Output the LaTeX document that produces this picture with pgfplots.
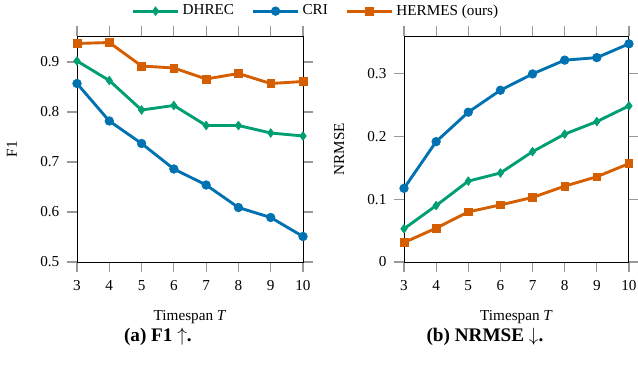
\documentclass[border=0pt]{standalone}
\usepackage{pgfplots}
\pgfplotsset{compat=1.18}
\usepackage{fontspec}
\setmainfont{Liberation Serif}
\definecolor{cgreen}{HTML}{009E73}
\definecolor{cblue}{HTML}{0072B2}
\definecolor{corange}{HTML}{D55E00}
\begin{document}
\begin{tikzpicture}[x=1pt,y=1pt]
\path[use as bounding box] (0,0) rectangle (398.75,236.875);
\pgfplotsset{myax/.style={
 scale only axis, height=141.25pt,
 xmin=3, xmax=10, xtick={3,...,10},
 tick align=outside, major tick length=6pt,
 tick style={gray!80, line width=0.7pt},
 axis line style={line width=0.6pt},
 clip=false,
 font=\fontsize{9.5}{11}\selectfont,
 /pgf/number format/assume math mode=true,
 xticklabel style={yshift=-2pt},
 yticklabel style={xshift=-1.5pt},
 xlabel={Timespan \textit{T}},
 xlabel style={at={(axis description cs:0.5,-0.243)}, anchor=center},
 ylabel style={at={(axis description cs:-0.288,0.5)}, anchor=center},
 every axis plot/.append style={line width=1.8pt},
 mark options={solid, line width=0.4pt},
 legend image code/.code={\draw[mark repeat=2,mark phase=2] plot coordinates {(0pt,0pt) (14pt,0pt) (28pt,0pt)};},
}}
\begin{axis}[myax, at={(48.125pt,73.125pt)}, anchor=south west, width=141.25pt,
  ymin=0.5, ymax=0.952, ytick={0.5,0.6,0.7,0.8,0.9},
  yticklabel style={/pgf/number format/.cd, fixed, fixed zerofill, precision=1},
  ylabel={F1},
  legend columns=3,
  legend style={draw=none, fill=none, at={(axis description cs:1.06,1.11)}, anchor=center,
    font=\fontsize{9.5}{11}\selectfont},
]
\addplot[cgreen, mark=diamond*, mark size=2.7pt] coordinates {(3,0.902) (4,0.863) (5,0.804) (6,0.813) (7,0.773) (8,0.773) (9,0.758) (10,0.752)};
\addlegendentry{DHREC\hspace*{9pt}}
\addplot[cblue, mark=*, mark size=2.7pt] coordinates {(3,0.857) (4,0.782) (5,0.737) (6,0.686) (7,0.654) (8,0.609) (9,0.589) (10,0.551)};
\addlegendentry{CRI\hspace*{9pt}}
\addplot[corange, mark=square*, mark size=2.4pt] coordinates {(3,0.937) (4,0.939) (5,0.892) (6,0.888) (7,0.866) (8,0.877) (9,0.857) (10,0.861)};
\addlegendentry{HERMES (ours)}
\node[font=\fontsize{12}{14}\selectfont\bfseries] at (axis description cs:0.358,-0.332) {(a) F1 $\uparrow$.};
\end{axis}
\begin{axis}[myax, at={(252.5pt,73.125pt)}, anchor=south west, width=140.6pt,
  ymin=0, ymax=0.3605, ytick={0,0.1,0.2,0.3},
  ylabel={NRMSE},
]
\addplot[cgreen, mark=diamond*, mark size=2.7pt] coordinates {(3,0.053) (4,0.090) (5,0.129) (6,0.142) (7,0.176) (8,0.204) (9,0.224) (10,0.249)};
\addplot[cblue, mark=*, mark size=2.7pt] coordinates {(3,0.1175) (4,0.192) (5,0.239) (6,0.274) (7,0.300) (8,0.322) (9,0.326) (10,0.348)};
\addplot[corange, mark=square*, mark size=2.4pt] coordinates {(3,0.031) (4,0.054) (5,0.080) (6,0.091) (7,0.103) (8,0.121) (9,0.136) (10,0.157)};
\node[font=\fontsize{12}{14}\selectfont\bfseries] at (axis description cs:0.36,-0.332) {(b) NRMSE $\downarrow$.};
\end{axis}
\end{tikzpicture}
\end{document}
